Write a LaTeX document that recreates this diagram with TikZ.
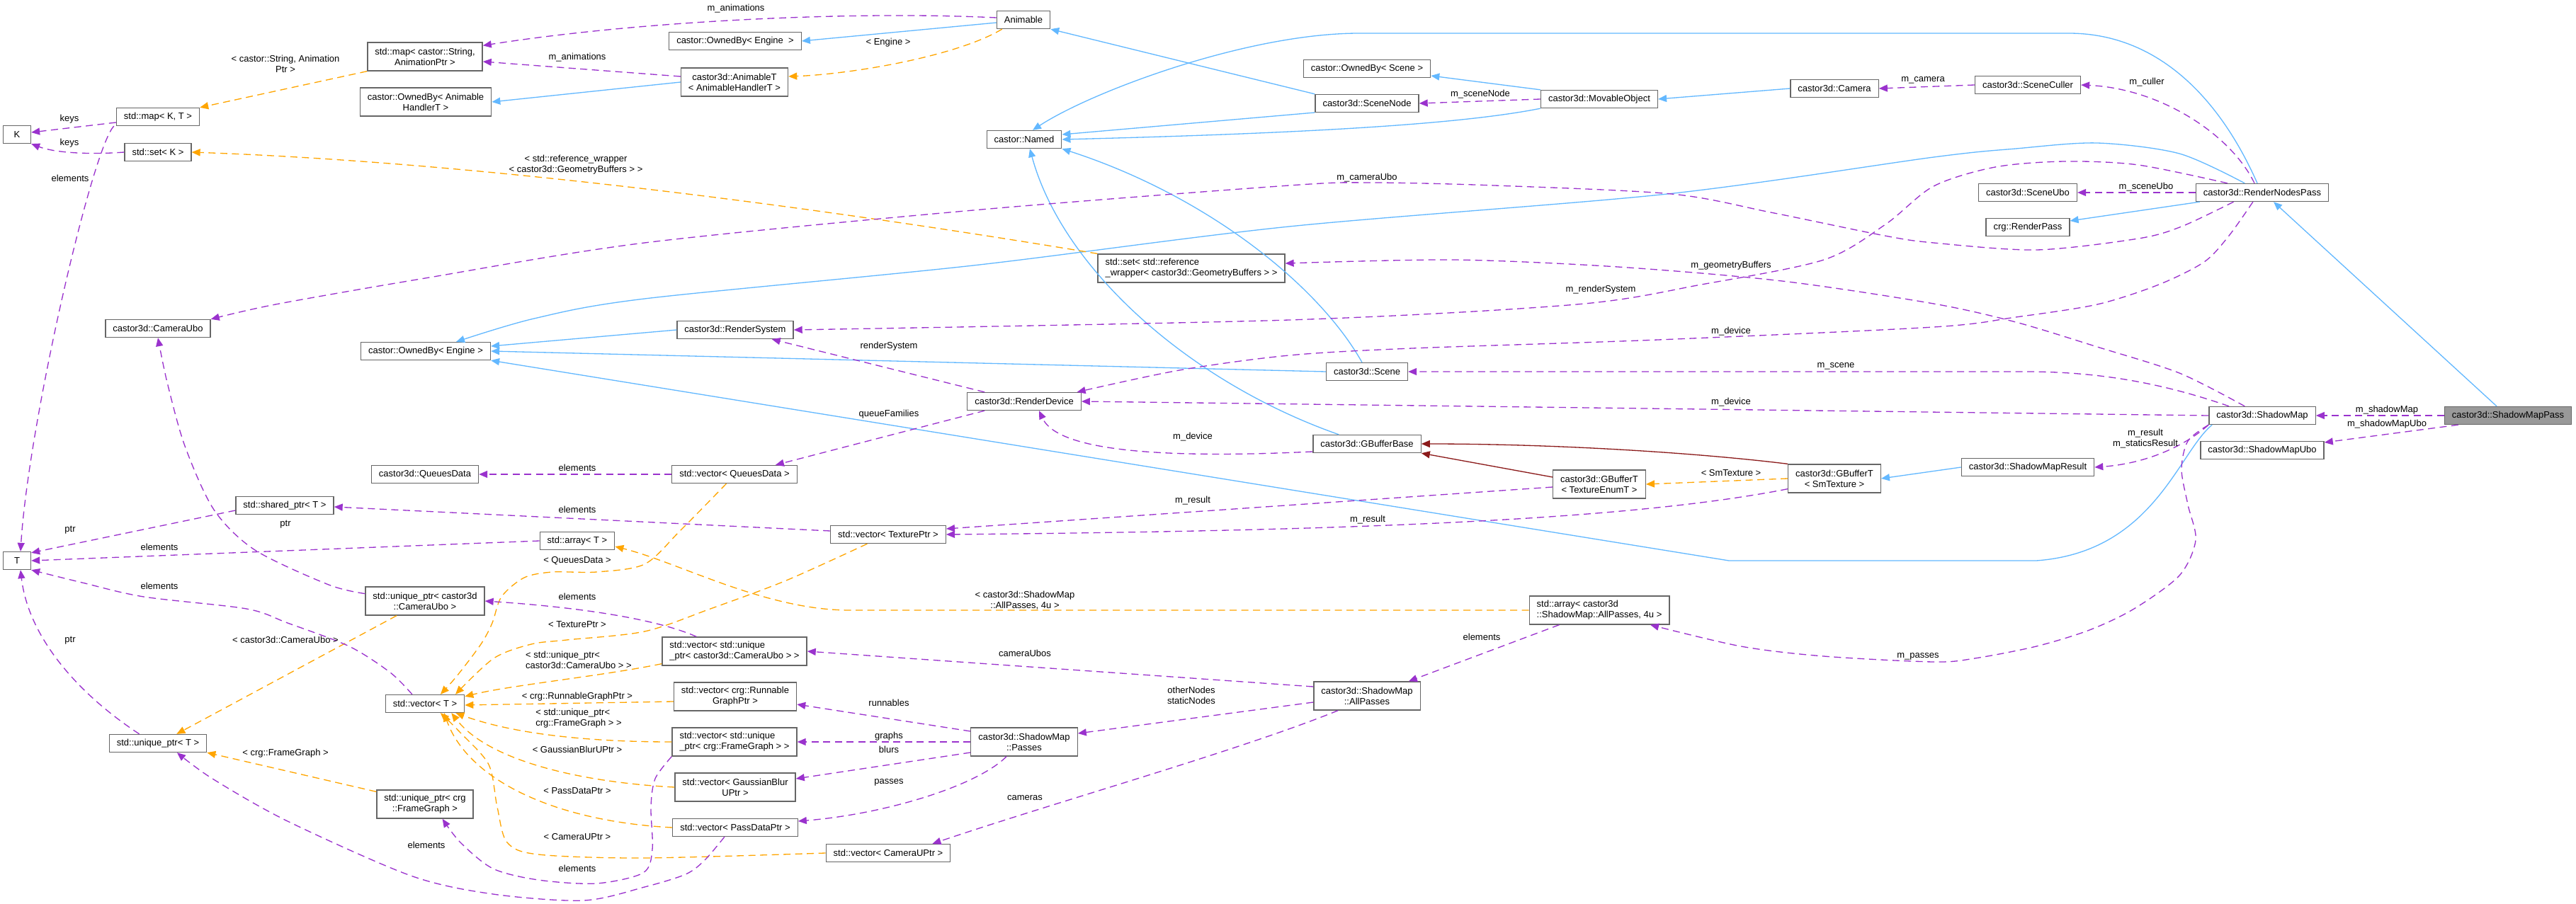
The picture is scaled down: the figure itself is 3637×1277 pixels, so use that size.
\documentclass[tikz,border=0pt]{standalone}
\usepackage{fontspec}
\setmainfont{Liberation Sans}
\usetikzlibrary{arrows.meta, positioning, calc}

\definecolor{dxblue}{HTML}{63B8FF}
\definecolor{dxpurple}{HTML}{9A32CD}
\definecolor{dxorange}{HTML}{FFA500}
\definecolor{dxred}{HTML}{8B1A1A}
\definecolor{dxframe}{HTML}{666666}
\definecolor{dxgray}{HTML}{999999}

\newcommand{\dox}{\fontsize{7.4pt}{8.5pt}\selectfont}

\begin{document}
\begin{tikzpicture}[x=0.02cm, y=-0.02cm,
  cls/.style={draw=dxframe, fill=white, line width=0.75pt, font=\dox, inner xsep=0.21cm, inner ysep=0pt, minimum height=0.5cm, minimum width=0.78cm, align=center},
  cls2/.style={cls, minimum height=0.8cm},
  cls2l/.style={cls2, align=left},
  lbl/.style={font=\dox, inner sep=0pt, align=center},
  inhedge/.style={draw=dxblue, line width=0.75pt, -{Triangle[length=0.24cm,width=0.2cm]}},
  protedge/.style={draw=dxred, line width=0.75pt, -{Triangle[length=0.24cm,width=0.2cm]}},
  useedge/.style={draw=dxpurple, line width=0.75pt, dash pattern=on 0.2cm off 0.13cm, -{Triangle[length=0.24cm,width=0.2cm]}},
  tmpledge/.style={draw=dxorange, line width=0.75pt, dash pattern=on 0.2cm off 0.13cm, -{Triangle[length=0.24cm,width=0.2cm]}}]
\useasboundingbox (0,0) rectangle (3637,1277);

% std containers and templates
\node[cls] (k) at (24,190) {K};
\node[cls] (t) at (24,792) {T};
\node[cls] (mapkt) at (223,165) {std::map< K, T >};
\node[cls] (setk) at (223,215) {std::set< K >};
\node[cls] (camubo) at (223,464) {castor3d::CameraUbo};
\node[cls] (uniqt) at (223,1050) {std::unique\_ptr< T >};
\node[cls] (sharedt) at (402,714) {std::shared\_ptr< T >};
\node[cls2] (mapstr) at (600,80) {std::map< castor::String,\\AnimationPtr >};
\node[cls2] (ownah) at (601,144) {castor::OwnedBy< Animable\\HandlerT >};
\node[cls] (owneng) at (601,496) {castor::OwnedBy< Engine >};
\node[cls] (queues) at (600,670) {castor3d::QueuesData};
\node[cls2] (uniqcam) at (600,849) {std::unique\_ptr< castor3d\\::CameraUbo >};
\node[cls] (vect) at (600,994) {std::vector< T >};
\node[cls2] (uniqfg) at (600,1136) {std::unique\_ptr< crg\\::FrameGraph >};
\node[cls] (arrayt) at (815,764) {std::array< T >};

% second column
\node[cls] (ownengtop) at (1038,58) {castor::OwnedBy< Engine~ >};
\node[cls2] (animt) at (1037,116) {castor3d::AnimableT\\< AnimableHandlerT >};
\node[cls] (rsys) at (1038,466) {castor3d::RenderSystem};
\node[cls] (vecq) at (1037,670) {std::vector< QueuesData >};
\node[cls2l] (vecucam) at (1037,920) {std::vector< std::unique\\\_ptr< castor3d::CameraUbo > >};
\node[cls2] (vecrun) at (1038,984) {std::vector< crg::Runnable\\GraphPtr >};
\node[cls2l] (vecufg) at (1037,1048) {std::vector< std::unique\\\_ptr< crg::FrameGraph > >};
\node[cls2] (vecblur) at (1038,1112) {std::vector< GaussianBlur\\UPtr >};
\node[cls] (vecpass) at (1038,1169) {std::vector< PassDataPtr >};
\node[cls] (vectex) at (1254,755) {std::vector< TexturePtr >};
\node[cls] (veccam) at (1254,1205) {std::vector< CameraUPtr >};

% castor3d classes
\node[cls] (animable) at (1445,28) {Animable};
\node[cls] (named) at (1446,197) {castor::Named};
\node[cls] (rdev) at (1446,567) {castor3d::RenderDevice};
\node[cls2] (passes) at (1446,1048) {castor3d::ShadowMap\\::Passes};
\node[cls2l] (setref) at (1682,379) {std::set< std::reference\\\_wrapper< castor3d::GeometryBuffers > >};
\node[cls] (ownscene) at (1930,97) {castor::OwnedBy< Scene >};
\node[cls] (scenenode) at (1930,146) {castor3d::SceneNode};
\node[cls] (scene) at (1930,525) {castor3d::Scene};
\node[cls] (gbbase) at (1930,627) {castor3d::GBufferBase};
\node[cls2] (allpasses) at (1930,983) {castor3d::ShadowMap\\::AllPasses};
\node[cls] (movable) at (2258,140) {castor3d::MovableObject};
\node[cls2] (gbtenum) at (2258,684) {castor3d::GBufferT\\< TextureEnumT >};
\node[cls2l] (arrayall) at (2258,862) {std::array< castor3d\\::ShadowMap::AllPasses, 4u >};
\node[cls] (camera) at (2590,125) {castor3d::Camera};
\node[cls2] (gbsm) at (2590,676) {castor3d::GBufferT\\< SmTexture >};
\node[cls] (culler) at (2863,120) {castor3d::SceneCuller};
\node[cls] (sceneubo) at (2863,272) {castor3d::SceneUbo};
\node[cls] (rpass) at (2863,321) {crg::RenderPass};
\node[cls] (smresult) at (2863,660) {castor3d::ShadowMapResult};
\node[cls] (rnp) at (3194,272) {castor3d::RenderNodesPass};
\node[cls] (shadowmap) at (3194,587) {castor3d::ShadowMap};
\node[cls] (smubo) at (3194,636) {castor3d::ShadowMapUbo};
\node[cls, fill=dxgray] (smpass) at (3541,587) {castor3d::ShadowMapPass};

% inheritance
\draw[inhedge] ($(animable.west)+(0,4)$) -- (ownengtop.east);
\draw[inhedge] (animt.west) -- (ownah.east);
\draw[inhedge] (scenenode.north west) -- (animable.south east);
\draw[inhedge] (scenenode.190) -- ($(named.east)+(0,-7)$);
\draw[inhedge] (movable.south west) .. controls (2080,172) and (1900,187) .. (named.east);
\draw[inhedge] ($(scene.north)+(-7,0)$) .. controls (1860,400) and (1700,275) .. (named.south east);
\draw[inhedge] ($(gbbase.north west)+(37,0)$) .. controls (1680,540) and (1500,380) .. ($(named.south)+(8,0)$);
\draw[inhedge] ($(rnp.north)+(-7,0)$) .. controls (3130,130) and (3040,47) .. (2921,47) -- (1919,47) .. controls (1760,47) and (1540,130) .. ($(named.north)+(12,0)$);
\draw[inhedge] plot[smooth] coordinates {(rnp.152) (3077,217) (2961,202) (2846,210) (2730,222) (2354,274) (1820,320) (1374,375) (910,422) (754,450) (owneng.17)};
\draw[inhedge] (rsys.west) -- ($(owneng.east)+(0,-7)$);
\draw[inhedge] (scene.west) -- (owneng.east);
\draw[inhedge] ($(shadowmap.south west)+(5,0)$) .. controls (3075,640) and (3040,780) .. (2875,792) -- (2441,792) -- (owneng.south east);
\draw[inhedge] ($(smpass.north)+(-16,0)$) -- ($(rnp.south)+(16,0)$);
\draw[inhedge] ($(rnp.south west)+(6,0)$) -- ($(rpass.east)+(0,-9)$);
\draw[inhedge] (movable.north west) -- ($(ownscene.east)+(0,10)$);
\draw[inhedge] (camera.west) -- (movable.east);
\draw[inhedge] (smresult.west) -- (gbsm.east);

% protected inheritance
\draw[protedge] (gbsm.north west) .. controls (2400,640) and (2200,627) .. (gbbase.east);
\draw[protedge] ($(gbtenum.west)+(0,-10)$) -- (gbbase.south east);

% template instances
\draw[tmpledge] ($(animable.south west)+(8,0)$) .. controls (1350,80) and (1200,105) .. ($(animt.east)+(0,-8)$);
\draw[tmpledge] (mapstr.south west) -- (mapkt.north east);
\draw[tmpledge] (setref.north west) .. controls (1200,300) and (700,230) .. (setk.east);
\draw[tmpledge] (gbsm.west) -- (gbtenum.east);
\draw[tmpledge] (arrayall.west) -- (1200,862) .. controls (1080,862) and (960,795) .. ($(arrayt.east)+(0,8)$);
\draw[tmpledge] plot[smooth] coordinates {(vecq.229) (960,750) (910,797) (842,808) (780,808) (740,816) (708,843) (695,880) (679,910) (645,955) (vect.31)};
\draw[tmpledge] plot[smooth] coordinates {(vectex.204) (1110,820) (1003,860) (910,892) (800,904) (750,910) (697,930) (vect.17)};
\draw[tmpledge] ($(uniqcam.south)+(-40,0)$) -- ($(uniqt.north east)+(-43,0)$);
\draw[tmpledge] ($(vecucam.south west)+(0,-3)$) .. controls (850,955) and (720,968) .. ($(vect.north east)+(0,3)$);
\draw[tmpledge] ($(vecrun.west)+(0,7)$) -- ($(vect.east)+(0,2)$);
\draw[tmpledge] (vecufg.west) .. controls (820,1048) and (720,1035) .. ($(vect.south east)+(-13,0)$);
\draw[tmpledge] (vecblur.west) .. controls (820,1105) and (690,1075) .. ($(vect.south east)+(-19,0)$);
\draw[tmpledge] (vecpass.west) .. controls (780,1160) and (660,1100) .. ($(vect.south)+(27,0)$);
\draw[tmpledge] plot[smooth] coordinates {(veccam.west) (910,1212) (760,1207) (716,1190) (702,1140) (690,1080) (650,1035) (vect.-31)};
\draw[tmpledge] ($(uniqfg.north west)+(0,3)$) -- (uniqt.south east);

% members
\draw[useedge] ($(animable.west)+(0,-3)$) .. controls (1200,15) and (900,30) .. ($(mapstr.north east)+(0,5)$);
\draw[useedge] ($(animt.west)+(0,-8)$) -- ($(mapstr.east)+(0,7)$);
\draw[useedge] ($(mapkt.west)+(0,8)$) -- ($(k.east)+(0,-3)$);
\draw[useedge] (setk.west) .. controls (120,219) and (75,215) .. (k.south east);
\draw[useedge] ($(mapkt.south west)+(-3,0)$) .. controls (130,210) and (40,600) .. ($(t.north)+(5,0)$);
\draw[useedge] (movable.west) -- (scenenode.east);
\draw[useedge] (culler.west) -- (camera.east);
\draw[useedge] ($(rnp.north)+(-11,0)$) .. controls (3150,190) and (3050,125) .. (culler.east);
\draw[useedge] (rnp.west) -- (sceneubo.east);
\draw[useedge] plot[smooth] coordinates {(rnp.198) (3080,320) (3019,337) (2875,353) (2730,343) (2661,333) (2500,300) (2360,274) (2110,262) (1936,258) (1820,262) (1374,297) (910,343) (600,393) (389,430) (camubo.north east)};
\draw[useedge] plot[smooth] coordinates {(rnp.165) (3019,233) (2915,228) (2817,236) (2730,263) (2662,317) (2575,367) (2402,402) (2226,430) (1820,452) (rsys.east)};
\draw[useedge] plot[smooth] coordinates {(shadowmap.152) (3077,527) (2961,490) (2846,455) (2730,429) (2516,397) (2284,377) (2052,367) (setref.3)};
\draw[useedge] plot[smooth] coordinates {(rnp.225) (3147,333) (3112,370) (3048,402) (2961,430) (2846,448) (2730,462) (2341,480) (1994,492) (1820,502) (1665,523) (rdev.10)};
\draw[useedge] ($(shadowmap.north)+(-47,0)$) .. controls (3050,540) and (2960,525) .. (2860,525) -- (scene.east);
\draw[useedge] (shadowmap.west) -- (rdev.east);
\draw[useedge] ($(gbbase.west)+(0,11)$) .. controls (1600,650) and (1490,630) .. ($(rdev.south)+(21,0)$);
\draw[useedge] ($(rdev.north west)+(25,0)$) -- ($(rsys.south east)+(-31,0)$);
\draw[useedge] ($(rdev.south west)+(25,0)$) -- ($(vecq.north east)+(-31,0)$);
\draw[useedge] (vecq.west) -- (queues.east);
\draw[useedge] ($(vectex.west)+(0,-5)$) -- ($(sharedt.east)+(0,2)$);
\draw[useedge] ($(sharedt.west)+(0,7)$) -- ($(t.north east)+(0,2)$);
\draw[useedge] (arrayt.west) -- (t.east);
\draw[useedge] plot[smooth] coordinates {(uniqcam.173) (464,826) (360,777) (302,720) (261,630) (236,540) (camubo.south)};
\draw[useedge] ($(vecucam.north west)+(49,0)$) .. controls (940,880) and (850,860) .. (uniqcam.east);
\draw[useedge] plot[smooth] coordinates {(vect.144) (551,950) (493,913) (406,880) (348,860) (203,843) (116,823) (t.south east)};
\draw[useedge] ($(uniqt.north west)+(43,0)$) .. controls (110,980) and (40,900) .. ($(t.south)+(5,0)$);
\draw[useedge] plot[smooth] coordinates {(vecufg.south west) (925,1100) (919,1140) (921,1200) (908,1233) (842,1248) (760,1243) (696,1227) (650,1190) (uniqfg.-40)};
\draw[useedge] plot[smooth] coordinates {(vecpass.221) (995,1215) (968,1235) (910,1253) (824,1272) (696,1263) (580,1237) (406,1160) (300,1100) (uniqt.-26)};
\draw[useedge] ($(allpasses.west)+(0,-13)$) -- (vecucam.east);
\draw[useedge] ($(allpasses.west)+(0,9)$) -- ($(passes.east)+(0,-12)$);
\draw[useedge] ($(passes.west)+(0,-15)$) -- ($(vecrun.east)+(0,11)$);
\draw[useedge] (passes.west) -- (vecufg.east);
\draw[useedge] ($(passes.west)+(0,15)$) -- ($(vecblur.east)+(0,-12)$);
\draw[useedge] ($(passes.south)+(-25,0)$) .. controls (1380,1110) and (1250,1150) .. ($(vecpass.east)+(0,-9)$);
\draw[useedge] ($(allpasses.south west)+(35,0)$) .. controls (1750,1060) and (1500,1130) .. ($(veccam.north east)+(-26,0)$);
\draw[useedge] ($(arrayall.south west)+(43,0)$) -- ($(allpasses.north east)+(-17,0)$);
\draw[useedge] plot[smooth] coordinates {(shadowmap.south west) (3089,623) (3080,663) (3089,713) (3100,763) (3077,813) (3013,860) (2950,890) (2875,913) (2788,930) (2730,935) (2575,927) (2458,913) (arrayall.-16)};
\draw[useedge] (shadowmap.south west) .. controls (3085,630) and (3030,655) .. (smresult.east);
\draw[useedge] ($(gbtenum.west)+(0,4)$) -- ($(vectex.east)+(0,-8)$);
\draw[useedge] ($(gbsm.south west)+(0,-6)$) .. controls (2300,735) and (1900,750) .. (vectex.east);
\draw[useedge] (smpass.west) -- (shadowmap.east);
\draw[useedge] ($(smpass.south west)+(20,0)$) -- ($(smubo.east)+(0,-11)$);

% edge labels
\node[lbl] (lanima) at (1039,12) {m\_animations};
\node[lbl] (lanimb) at (815,81) {m\_animations};
\node[lbl] (lengine) at (1254,60) {< Engine >};
\node[lbl] (lstrptr) at (403,90) {< castor::String, Animation\\Ptr >};
\node[lbl] (lkeysa) at (98,168) {keys};
\node[lbl] (lkeysb) at (98,202) {keys};
\node[lbl] (lelema) at (99,252) {elements};
\node[lbl] (lrefwrap) at (813,233) {< std::reference\_wrapper\\< castor3d::GeometryBuffers > >};
\node[lbl] (lscnode) at (2090,133) {m\_sceneNode};
\node[lbl] (lcamera) at (2715,113) {m\_camera};
\node[lbl] (lculler) at (3031,116) {m\_culler};
\node[lbl] (lscubo) at (3030,264) {m\_sceneUbo};
\node[lbl] (lcamubo) at (1930,251) {m\_cameraUbo};
\node[lbl] (lgeombuf) at (2444,375) {m\_geometryBuffers};
\node[lbl] (lrsys) at (2260,409) {m\_renderSystem};
\node[lbl] (lrsysb) at (1255,489) {renderSystem};
\node[lbl] (lqueuefam) at (1255,585) {queueFamilies};
\node[lbl] (ldevicea) at (1684,617) {m\_device};
\node[lbl] (ldeviceb) at (2444,468) {m\_device};
\node[lbl] (lscene) at (2592,517) {m\_scene};
\node[lbl] (ldevicec) at (2444,568) {m\_device};
\node[lbl] (lsmtex) at (2444,668) {< SmTexture >};
\node[lbl] (lresulta) at (1684,707) {m\_result};
\node[lbl] (lresultb) at (1931,734) {m\_result};
\node[lbl] (lsmap) at (3370,579) {m\_shadowMap};
\node[lbl] (lsmubo) at (3370,599) {m\_shadowMapUbo};
\node[lbl] (lsmres) at (3029,620) {m\_result\\m\_staticsResult};
\node[lbl] (lelemb) at (815,661) {elements};
\node[lbl] (lelemc) at (815,720) {elements};
\node[lbl] (lptra) at (403,741) {ptr};
\node[lbl] (lptrb) at (99,749) {ptr};
\node[lbl] (leleme) at (225,773) {elements};
\node[lbl] (lqdata) at (815,792) {< QueuesData >};
\node[lbl] (lelemf) at (225,828) {elements};
\node[lbl] (lelemg) at (815,843) {elements};
\node[lbl] (lallp) at (1447,848) {< castor3d::ShadowMap\\::AllPasses, 4u >};
\node[lbl] (lptrc) at (99,905) {ptr};
\node[lbl] (lcamubot) at (403,904) {< castor3d::CameraUbo >};
\node[lbl] (ltexptr) at (815,882) {< TexturePtr >};
\node[lbl, align=left] (luniqcam) at (817,932) {< std::unique\_ptr<\\castor3d::CameraUbo > >};
\node[lbl] (lrungraph) at (815,984) {< crg::RunnableGraphPtr >};
\node[lbl, align=left] (luniqfg) at (817,1015) {< std::unique\_ptr<\\crg::FrameGraph > >};
\node[lbl] (lblur) at (815,1059) {< GaussianBlurUPtr >};
\node[lbl] (lpassdata) at (815,1117) {< PassDataPtr >};
\node[lbl] (lframegraph) at (403,1064) {< crg::FrameGraph >};
\node[lbl] (lcamuptr) at (815,1182) {< CameraUPtr >};
\node[lbl] (lelemh) at (602,1194) {elements};
\node[lbl] (lelemi) at (815,1227) {elements};
\node[lbl] (lcamubos) at (1447,923) {cameraUbos};
\node[lbl] (lnodes) at (1682,982) {otherNodes\\staticNodes};
\node[lbl] (lrunnables) at (1255,993) {runnables};
\node[lbl] (lgraphs) at (1255,1040) {graphs};
\node[lbl] (lblurs) at (1255,1059) {blurs};
\node[lbl] (lpasses) at (1255,1105) {passes};
\node[lbl] (lcameras) at (1447,1127) {cameras};
\node[lbl] (lelemj) at (2092,900) {elements};
\node[lbl] (lmpasses) at (2708,927) {m\_passes};
\end{tikzpicture}
\end{document}
